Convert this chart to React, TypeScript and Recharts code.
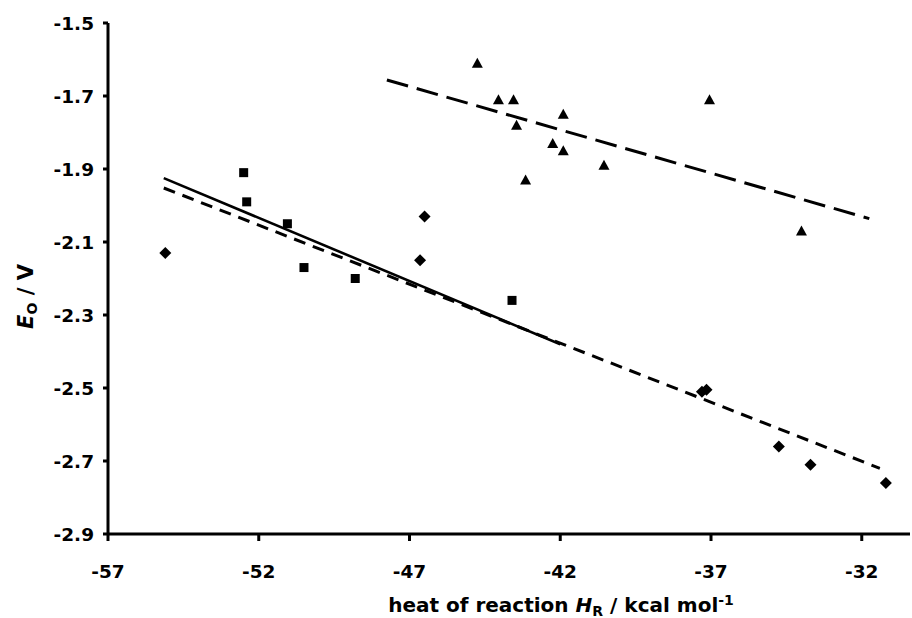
import { ScatterChart, Scatter, XAxis, YAxis, ReferenceLine, Label } from "recharts";

const xTicks = [-57, -52, -47, -42, -37, -32];
const yTicks = [-2.9, -2.7, -2.5, -2.3, -2.1, -1.9, -1.7, -1.5];

const diamondX = [-55.1, -46.5, -46.65, -37.3, -37.15, -34.75, -33.7, -31.2];
const diamondY = [-2.13, -2.03, -2.15, -2.51, -2.505, -2.66, -2.71, -2.76];

const squareX = [-52.5, -52.4, -51.05, -50.5, -48.8, -43.6];
const squareY = [-1.91, -1.99, -2.05, -2.17, -2.2, -2.26];

const triangleX = [-44.75, -44.05, -43.55, -43.45, -41.9, -42.25, -41.9, -40.55, -43.15, -37.05, -34.0];
const triangleY = [-1.61, -1.71, -1.71, -1.78, -1.75, -1.83, -1.85, -1.89, -1.93, -1.71, -2.07];

// trend lines: [x0, x1], [y0, y1]
const solidFitX = [-55.15, -42];
const solidFitY = [-1.925, -2.38];
const shortFitX = [-55.15, -31.4];
const shortFitY = [-1.952, -2.72];
const longFitX = [-47.75, -31.75];
const longFitY = [-1.656, -2.036];

const FONT = "'DejaVu Sans', sans-serif";

const toPoints = (xs: number[], ys: number[]) => xs.map((x, i) => ({ x, y: ys[i] }));

const Diamond = (p: any) => {
  const { cx, cy } = p;
  const r = 6;
  return <polygon points={`${cx},${cy - r} ${cx + r},${cy} ${cx},${cy + r} ${cx - r},${cy}`} fill="#000" />;
};

const Square = (p: any) => {
  const { cx, cy } = p;
  return <rect x={cx - 4.5} y={cy - 4.5} width={9} height={9} fill="#000" />;
};

const Triangle = (p: any) => {
  const { cx, cy } = p;
  return <polygon points={`${cx},${cy - 5.5} ${cx + 5.5},${cy + 4.5} ${cx - 5.5},${cy + 4.5}`} fill="#000" />;
};

const XTitle = (props: any) => {
  const vb = props.viewBox;
  const cx = vb.x + vb.width / 2 + 52;
  return (
    <text x={cx} y={vb.y + 78} textAnchor="middle" fontFamily={FONT} fontWeight="bold" fontSize={20} fill="#000">
      <tspan>heat of reaction </tspan>
      <tspan fontStyle="italic">H</tspan>
      <tspan dy={4} fontSize={14}>R</tspan>
      <tspan dy={-4}> / kcal mol</tspan>
      <tspan dy={-7} fontSize={14}>-1</tspan>
    </text>
  );
};

const YTitle = (props: any) => {
  const vb = props.viewBox;
  const x = 33;
  const y = vb.y + vb.height / 2 + 18;
  return (
    <text x={x} y={y} transform={`rotate(-90, ${x}, ${y})`} textAnchor="middle" fontFamily={FONT} fontWeight="bold" fontSize={21} fill="#000">
      <tspan fontStyle="italic">E</tspan>
      <tspan dy={4} fontSize={14}>O</tspan>
      <tspan dy={-4}> / V</tspan>
    </text>
  );
};

const tickStyle = { fill: "#000", fontSize: 18.5, fontWeight: "bold", fontFamily: FONT };

export default function App() {
  return (
    <div style={{ position: "absolute", left: 0, top: 0, width: 912, height: 618, background: "#fff" }}>
      <ScatterChart width={912} height={618} margin={{ top: 23, right: 2, left: 0, bottom: 34 }}>
        <XAxis
          type="number"
          dataKey="x"
          domain={[-57, -30.4]}
          ticks={xTicks}
          height={50}
          axisLine={{ stroke: "#000", strokeWidth: 3 }}
          tickLine={{ stroke: "#000", strokeWidth: 3 }}
          tickSize={7}
          tickMargin={24}
          tick={tickStyle}
          interval={0}
        >
          <Label content={<XTitle />} />
        </XAxis>
        <YAxis
          type="number"
          dataKey="y"
          domain={[-2.9, -1.5]}
          ticks={yTicks}
          width={108}
          axisLine={{ stroke: "#000", strokeWidth: 3 }}
          tickLine={{ stroke: "#000", strokeWidth: 3 }}
          tickSize={5}
          tickMargin={9}
          tick={tickStyle}
          interval={0}
          tickFormatter={(v: number) => v.toFixed(1)}
        >
          <Label content={<YTitle />} />
        </YAxis>
        <ReferenceLine
          segment={toPoints(solidFitX, solidFitY)}
          stroke="#000"
          strokeWidth={2.6}
        />
        <ReferenceLine
          segment={toPoints(shortFitX, shortFitY)}
          stroke="#000"
          strokeWidth={3}
          strokeDasharray="12 8"
        />
        <ReferenceLine
          segment={toPoints(longFitX, longFitY)}
          stroke="#000"
          strokeWidth={3}
          strokeDasharray="22 9"
        />
        <Scatter data={toPoints(diamondX, diamondY)} shape={Diamond} isAnimationActive={false} />
        <Scatter data={toPoints(squareX, squareY)} shape={Square} isAnimationActive={false} />
        <Scatter data={toPoints(triangleX, triangleY)} shape={Triangle} isAnimationActive={false} />
      </ScatterChart>
    </div>
  );
}
